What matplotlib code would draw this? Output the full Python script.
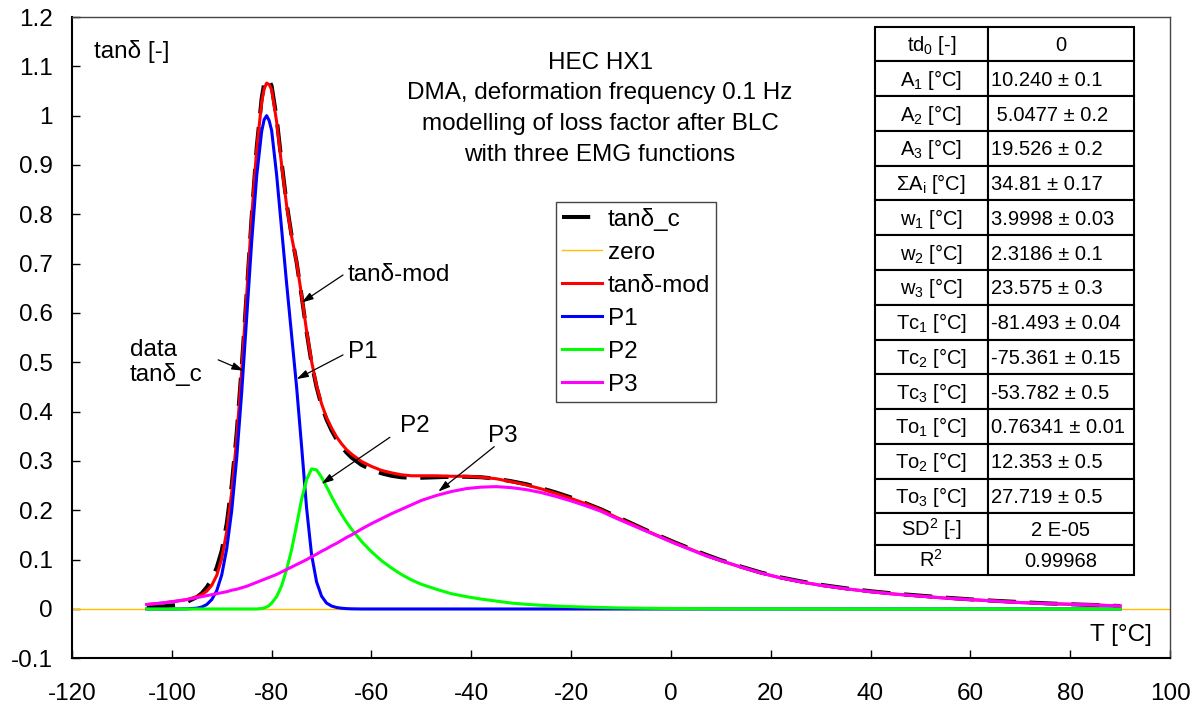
import matplotlib.pyplot as plt
from matplotlib.patches import Rectangle

plt.rcParams['font.family'] = ['Liberation Sans', 'DejaVu Sans']
plt.rcParams['mathtext.fontset'] = 'custom'
plt.rcParams['mathtext.rm'] = 'Liberation Sans'
plt.rcParams['mathtext.it'] = 'Liberation Sans:italic'
plt.rcParams['mathtext.default'] = 'regular'
plt.rcParams['axes.unicode_minus'] = False

# temperature grid [°C]
T = [-105, -102, -99, -97, -95, -94, -93, -92, -91, -90,
     -89, -88, -87, -86, -85, -84, -83, -82, -81.5, -81, -80.5, -80,
     -79, -78, -77, -76, -75, -74, -73, -72, -71, -70,
     -69, -68, -67, -66, -65, -64, -62, -60, -58, -56,
     -54, -52, -50, -47, -44, -41, -38, -35, -32, -29,
     -26, -23, -20, -17, -14, -11, -8, -5, -2, 1,
     4, 7, 10, 14, 18, 22, 26, 30, 35, 40,
     45, 50, 55, 60, 65, 70, 75, 80, 85, 90]

# measured loss factor
tan_c = [0.004, 0.005, 0.008, 0.014, 0.024, 0.032, 0.044, 0.060, 0.084, 0.118,
         0.173, 0.251, 0.357, 0.49, 0.64, 0.795, 0.935, 1.035, 1.065, 1.075, 1.072, 1.06,
         0.995, 0.905, 0.822, 0.757, 0.703, 0.635, 0.562, 0.498, 0.450, 0.412,
         0.384, 0.362, 0.344, 0.329, 0.317, 0.307, 0.292, 0.282, 0.275, 0.270,
         0.267, 0.266, 0.266, 0.267, 0.268, 0.268, 0.267, 0.264, 0.259, 0.253,
         0.245, 0.236, 0.226, 0.214, 0.202, 0.188, 0.174, 0.160, 0.147, 0.134,
         0.122, 0.110, 0.099, 0.086, 0.074, 0.064, 0.056, 0.049, 0.042, 0.036,
         0.031, 0.027, 0.023, 0.0195, 0.0165, 0.014, 0.0115, 0.0095, 0.008, 0.006]

# model (sum of the three peaks)
tan_mod = [0.009, 0.012, 0.016, 0.019, 0.025, 0.029, 0.036, 0.048, 0.068, 0.102,
           0.157, 0.237, 0.346, 0.482, 0.637, 0.794, 0.931, 1.027, 1.054, 1.066, 1.063, 1.053,
           0.988, 0.90, 0.818, 0.755, 0.703, 0.636, 0.564, 0.502, 0.453, 0.416,
           0.388, 0.367, 0.349, 0.335, 0.323, 0.314, 0.299, 0.289, 0.281, 0.276,
           0.272, 0.270, 0.270, 0.270, 0.269, 0.269, 0.267, 0.264, 0.258, 0.2515,
           0.2435, 0.234, 0.224, 0.213, 0.201, 0.186, 0.173, 0.159, 0.146, 0.133,
           0.121, 0.1085, 0.098, 0.085, 0.073, 0.063, 0.055, 0.048, 0.041, 0.035,
           0.030, 0.026, 0.022, 0.019, 0.016, 0.013, 0.011, 0.0095, 0.008, 0.006]

p1 = [0, 0, 0, 0.0003, 0.0016, 0.004, 0.009, 0.019, 0.037, 0.069,
      0.122, 0.199, 0.306, 0.439, 0.591, 0.744, 0.877, 0.968, 0.992, 1.0, 0.99, 0.97,
      0.88, 0.77, 0.66, 0.555, 0.45, 0.33, 0.205, 0.11, 0.055, 0.026,
      0.012, 0.006, 0.003, 0.0015, 0.0007, 0.0003, 0, 0, 0, 0,
      0, 0, 0, 0, 0, 0, 0, 0, 0, 0,
      0, 0, 0, 0, 0, 0, 0, 0, 0, 0,
      0, 0, 0, 0, 0, 0, 0, 0, 0, 0,
      0, 0, 0, 0, 0, 0, 0, 0, 0, 0]

p2 = [0, 0, 0, 0, 0, 0, 0, 0, 0, 0,
      0, 0, 0, 0, 0, 0, 0, 0.001, 0.002, 0.004, 0.007, 0.012,
      0.025, 0.047, 0.08, 0.12, 0.170, 0.222, 0.262, 0.284, 0.282, 0.267,
      0.248, 0.228, 0.209, 0.192, 0.176, 0.162, 0.137, 0.116, 0.098, 0.083,
      0.070, 0.059, 0.050, 0.040, 0.031, 0.025, 0.020, 0.016, 0.012, 0.0095,
      0.0075, 0.006, 0.0047, 0.0037, 0.003, 0.0023, 0.0018, 0.0014, 0.0011, 0.0009,
      0.0007, 0.0005, 0.0004, 0.0003, 0.0002, 0.0002, 0.0001, 0.0001, 0, 0,
      0, 0, 0, 0, 0, 0, 0, 0, 0, 0]

p3 = [0.009, 0.012, 0.016, 0.019, 0.023, 0.025, 0.027, 0.029, 0.031, 0.033,
      0.035, 0.038, 0.040, 0.043, 0.046, 0.050, 0.054, 0.058, 0.060, 0.062, 0.064, 0.066,
      0.070, 0.075, 0.080, 0.085, 0.090, 0.095, 0.100, 0.106, 0.111, 0.117,
      0.122, 0.128, 0.133, 0.139, 0.145, 0.150, 0.162, 0.173, 0.183, 0.193,
      0.202, 0.211, 0.220, 0.230, 0.238, 0.244, 0.247, 0.248, 0.246, 0.242,
      0.236, 0.228, 0.219, 0.209, 0.198, 0.184, 0.171, 0.158, 0.145, 0.132,
      0.120, 0.108, 0.098, 0.085, 0.073, 0.063, 0.055, 0.048, 0.041, 0.035,
      0.030, 0.026, 0.022, 0.019, 0.016, 0.013, 0.011, 0.0095, 0.008, 0.006]

zero_T = [-120, 100]
zero = [0, 0]

xticks = [-120, -100, -80, -60, -40, -20, 0, 20, 40, 60, 80, 100]
yticks = [-0.1, 0, 0.1, 0.2, 0.3, 0.4, 0.5, 0.6, 0.7, 0.8, 0.9, 1, 1.1, 1.2]

title_lines = ['HEC HX1', 'DMA, deformation frequency 0.1 Hz',
               'modelling of loss factor after BLC', 'with three EMG functions']

tab_names = ['td$_0$ [-]', '$A_1$ [°C]', '$A_2$ [°C]', '$A_3$ [°C]', 'Σ$A_i$ [°C]',
             '$w_1$ [°C]', '$w_2$ [°C]', '$w_3$ [°C]', '$Tc_1$ [°C]', '$Tc_2$ [°C]',
             '$Tc_3$ [°C]', '$To_1$ [°C]', '$To_2$ [°C]', '$To_3$ [°C]', '$SD^2$ [-]', '$R^2$']
tab_vals = ['0', '10.240 ± 0.1', ' 5.0477 ± 0.2', '19.526 ± 0.2', '34.81 ± 0.17',
            '3.9998 ± 0.03', '2.3186 ± 0.1', '23.575 ± 0.3', '-81.493 ± 0.04', '-75.361 ± 0.15',
            '-53.782 ± 0.5', '0.76341 ± 0.01', '12.353 ± 0.5', '27.719 ± 0.5', '2 E-05', '0.99968']
tab_centered = [0, 14, 15]

W, H = 1199, 709
fs = 17.5
fig = plt.figure(figsize=(W / 100, H / 100), dpi=100)
ax = fig.add_axes([72 / W, 1 - 658.3 / H, 1098 / W, (658.3 - 17) / H])

ax.plot(T, tan_c, color='black', lw=2.9, ls=(0, (7, 3.4)), label='tanδ_c')
ax.plot(zero_T, zero, color='#FFC000', lw=1.0, label='zero')
ax.plot(T, tan_mod, color='#FF0000', lw=2.2, label='tanδ-mod')
ax.plot(T, p1, color='#0000FF', lw=2.2, label='P1')
ax.plot(T, p2, color='#00FF00', lw=2.2, label='P2')
ax.plot(T, p3, color='#FF00FF', lw=2.2, label='P3')

ax.set_xlim(-120, 100)
ax.set_ylim(-0.1, 1.2)
ax.set_xticks(xticks)
ax.set_yticks(yticks)
ax.set_yticklabels([f"{v + 0.0:g}" for v in yticks])
ax.tick_params(direction='in', length=6, width=1, labelsize=17.5)
ax.tick_params(axis='x', pad=18)
ax.tick_params(axis='y', pad=14)
for s in ['left', 'bottom']:
    ax.spines[s].set_linewidth(1.5)
for s in ['top', 'right']:
    ax.spines[s].set_linewidth(1.0)
    ax.spines[s].set_color('#444444')

# axis captions inside the frame
ax.text(-115.5, 1.131, 'tanδ [-]', fontsize=fs, ha='left', va='center')
ax.text(96.4, -0.053, 'T [°C]', fontsize=fs, ha='right', va='center')

# title block
for txt, yy in zip(title_lines, [1.107, 1.045, 0.983, 0.921]):
    ax.text(-14.2, yy, txt, fontsize=fs, ha='center', va='center')

# labels with arrows
arr = dict(arrowstyle='-|>,head_length=0.7,head_width=0.22', color='black', lw=0.9,
           shrinkA=0, shrinkB=0, mutation_scale=10)
ax.text(-64.7, 0.677, 'tanδ-mod', fontsize=fs, ha='left', va='center')
ax.annotate('', xy=(-74.0, 0.621), xytext=(-65.7, 0.677), arrowprops=arr)
ax.text(-64.7, 0.52, 'P1', fontsize=fs, ha='left', va='center')
ax.annotate('', xy=(-75.0, 0.466), xytext=(-65.7, 0.515), arrowprops=arr)
ax.text(-108.4, 0.499, 'data\ntanδ_c', fontsize=fs, ha='left', va='center', linespacing=1.1)
ax.annotate('', xy=(-85.6, 0.483), xytext=(-90.7, 0.505), arrowprops=arr)
ax.text(-54.3, 0.371, 'P2', fontsize=fs, ha='left', va='center')
ax.annotate('', xy=(-70.0, 0.2535), xytext=(-56.3, 0.348), arrowprops=arr)
ax.text(-36.6, 0.351, 'P3', fontsize=fs, ha='left', va='center')
ax.annotate('', xy=(-46.6, 0.238), xytext=(-35.4, 0.329), arrowprops=arr)

leg = ax.legend(loc='upper left', bbox_to_anchor=(555.7 / W, 1 - 201.7 / H),
                bbox_transform=fig.transFigure, fontsize=fs, fancybox=False,
                edgecolor='#444444', framealpha=1, borderaxespad=0, handlelength=1.65,
                handletextpad=0.24, borderpad=0.25, labelspacing=0.45)
leg.get_frame().set_linewidth(1.0)

# parameter table
col_x = [875, 987.7, 1134]
row_h = [34.76] * 14 + [31.7, 30]
y_top = 26.7
for i, (name, val) in enumerate(zip(tab_names, tab_vals)):
    y0 = y_top + sum(row_h[:i])
    h = row_h[i]
    for c in range(2):
        fig.add_artist(Rectangle((col_x[c] / W, 1 - (y0 + h) / H), (col_x[c + 1] - col_x[c]) / W, h / H,
                                 transform=fig.transFigure, fc='white', ec='black', lw=1.5))
    yb = 1 - (y0 + h / 2 + 7) / H
    fig.text((col_x[0] + col_x[1]) / 2 / W, yb, name, fontsize=14.5, ha='center', va='baseline')
    if i in tab_centered:
        fig.text((col_x[1] + col_x[2]) / 2 / W, yb, val, fontsize=14.5, ha='center', va='baseline')
    else:
        fig.text((col_x[1] + 3.5) / W, yb, val, fontsize=14.5, ha='left', va='baseline')

fig.savefig('out.png', dpi=100)
